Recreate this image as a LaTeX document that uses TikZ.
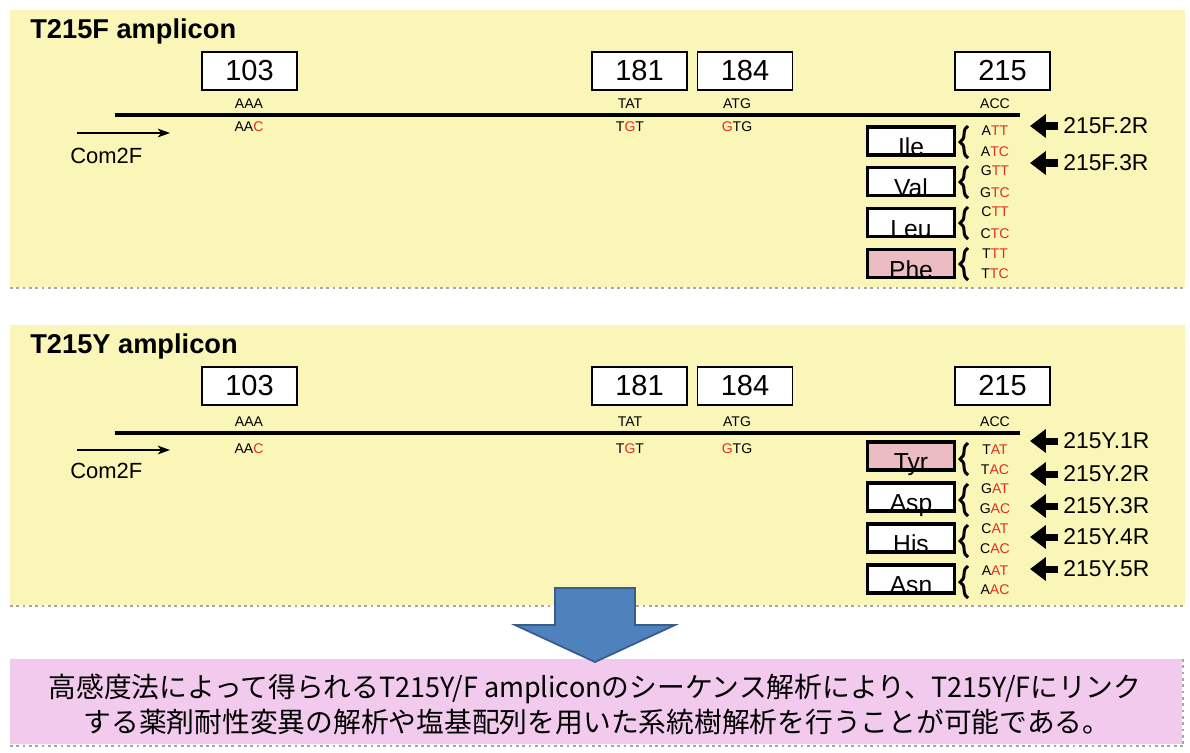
\documentclass[tikz,border=0pt]{standalone}
\usepackage{fontspec}
\usepackage{graphicx}
\setmainfont{Liberation Sans}
\newfontfamily\jpfont{Noto Sans CJK JP}
\usetikzlibrary{arrows.meta,decorations.pathreplacing}
\definecolor{panelyellow}{HTML}{FAF6B8}
\definecolor{notepink}{HTML}{F2CAEE}
\definecolor{aapink}{HTML}{EBBDC2}
\definecolor{mutred}{HTML}{E0301E}
\definecolor{bigblue}{HTML}{4F81BD}
\definecolor{bigblueline}{HTML}{385D8A}
\newcommand{\rd}[1]{\textcolor{mutred}{#1}}
\newcommand{\lat}[1]{\scalebox{0.97}[1]{#1}}
\tikzset{
  panel/.style={fill=panelyellow, draw=none},
  sep/.style={draw=gray!70, line width=1.6pt, dotted},
  title/.style={anchor=base west, inner sep=0, font=\fontsize{15.5}{16}\selectfont\bfseries},
  posbox/.style={draw, line width=1.1pt, fill=white, minimum width=1.9cm, minimum height=0.76cm, inner sep=0, font=\fontsize{16.5}{17}\selectfont},
  cod/.style={inner sep=0, font=\fontsize{8}{8}\selectfont},
  seqline/.style={line width=2.8pt},
  aabox/.style={draw, line width=2.2pt, fill=white, minimum width=1.74cm, minimum height=0.56cm, inner sep=0},
  aamut/.style={aabox, fill=aapink},
  aatxt/.style={anchor=base, inner sep=0, font=\fontsize{14}{14}\selectfont},
  brc/.style={decorate, decoration={brace, amplitude=4.5pt}, line width=1.7pt},
  fwd/.style={line width=0.7pt, -{Stealth[length=7pt, width=5pt, inset=2pt]}},
  fwdlbl/.style={anchor=base west, inner sep=0, font=\fontsize{12.5}{13}\selectfont},
  rev/.style={line width=4pt, shorten <=2.8pt, -{Triangle[length=9pt, width=13pt]}},
  revlbl/.style={anchor=west, inner sep=0, font=\fontsize{13}{13}\selectfont},
  note/.style={fill=notepink, draw=none},
  notetxt/.style={inner sep=0, font=\jpfont\fontsize{15.8}{16}\selectfont},
  bigarrow/.style={fill=bigblue, draw=bigblueline, line width=1pt, line join=miter},
}
\begin{document}
\begin{tikzpicture}[x=0.02cm, y=-0.02cm]
\useasboundingbox (0,0) rectangle (1190,752);
\fill[white] (0,0) rectangle (1190,752);

% ================= Panel 1: T215F =================
\fill[panel] (10,10) rectangle (1185,287);
\draw[sep] (10,288) -- (1185,288);
\node[title] (t1) at (30,38) {T215F amplicon};
\node[posbox] (p1a) at (249.5,71) {103};
\node[posbox] (p1b) at (639.5,71) {181};
\node[posbox] (p1c) at (745,71) {184};
\node[posbox] (p1d) at (1002.5,71) {215};
\coordinate (l1s) at (115,115);
\coordinate (l1e) at (1020,115);
\draw[seqline] (l1s) -- (l1e);
\node[cod] (c1a) at (249,104) {AAA};
\node[cod] (c1b) at (630,104) {TAT};
\node[cod] (c1c) at (737,104) {ATG};
\node[cod] (c1d) at (995,104) {ACC};
\node[cod] (m1a) at (249,127) {AA\rd{C}};
\node[cod] (m1b) at (630,127) {T\rd{G}T};
\node[cod] (m1c) at (737,127) {\rd{G}TG};
\coordinate (f1s) at (77,133);
\coordinate (f1e) at (170,133);
\draw[fwd] (f1s) -- (f1e);
\node[fwdlbl] (f1l) at (70,163) {Com2F};
% amino acids
\node[aabox] (ile) at (911,141) {};
\node[aatxt] at (911,155) {Ile};
\node[aabox] (val) at (911,181.5) {};
\node[aatxt] at (911,196) {Val};
\node[aabox] (leu) at (911,222.5) {};
\node[aatxt] at (911,237) {Leu};
\node[aamut] (phe) at (911,263.5) {};
\node[aatxt] at (911,278) {Phe};
\draw[brc] (968,158) -- (968,126);
\draw[brc] (968,198) -- (968,166);
\draw[brc] (968,239) -- (968,207);
\draw[brc] (968,280) -- (968,248);
\node[cod] (ile1) at (995,131) {A\rd{TT}};
\node[cod] (ile2) at (995,152) {A\rd{TC}};
\node[cod] (val1) at (995,171) {G\rd{TT}};
\node[cod] (val2) at (995,193) {G\rd{TC}};
\node[cod] (leu1) at (995,212) {C\rd{TT}};
\node[cod] (leu2) at (995,234) {C\rd{TC}};
\node[cod] (phe1) at (995,254) {T\rd{TT}};
\node[cod] (phe2) at (995,274) {T\rd{TC}};
% reverse primers
\node[revlbl] (r1a) at (1063,126) {215F.2R};
\node[revlbl] (r1b) at (1063,163) {215F.3R};
\coordinate (r1at) at (1030,126);
\coordinate (r1bt) at (1030,163);
\draw[rev] (r1a.west) -- (r1at);
\draw[rev] (r1b.west) -- (r1bt);

% ================= Panel 2: T215Y =================
\fill[panel] (10,325) rectangle (1185,605);
\draw[sep] (10,606) -- (1185,606);
\node[title] (t2) at (30,353) {T215Y amplicon};
\node[posbox] (p2a) at (249.5,386) {103};
\node[posbox] (p2b) at (639.5,386) {181};
\node[posbox] (p2c) at (745,386) {184};
\node[posbox] (p2d) at (1002.5,386) {215};
\coordinate (l2s) at (115,433);
\coordinate (l2e) at (1020,433);
\draw[seqline] (l2s) -- (l2e);
\node[cod] (c2a) at (249,422) {AAA};
\node[cod] (c2b) at (630,422) {TAT};
\node[cod] (c2c) at (737,422) {ATG};
\node[cod] (c2d) at (995,422) {ACC};
\node[cod] (m2a) at (249,449) {AA\rd{C}};
\node[cod] (m2b) at (630,449) {T\rd{G}T};
\node[cod] (m2c) at (737,449) {\rd{G}TG};
\coordinate (f2s) at (77,450);
\coordinate (f2e) at (170,450);
\draw[fwd] (f2s) -- (f2e);
\node[fwdlbl] (f2l) at (70,478) {Com2F};
% amino acids
\node[aamut] (tyr) at (911,456) {};
\node[aatxt] at (911,470) {Tyr};
\node[aabox] (asp) at (911,497) {};
\node[aatxt] at (911,511) {Asp};
\node[aabox] (his) at (911,538) {};
\node[aatxt] at (911,552) {His};
\node[aabox] (asn) at (911,579) {};
\node[aatxt] at (911,593) {Asn};
\draw[brc] (968,475) -- (968,443);
\draw[brc] (968,516) -- (968,484);
\draw[brc] (968,557) -- (968,525);
\draw[brc] (968,598) -- (968,566);
\node[cod] (tyr1) at (995,450) {T\rd{AT}};
\node[cod] (tyr2) at (995,470) {T\rd{AC}};
\node[cod] (asp1) at (995,489) {G\rd{AT}};
\node[cod] (asp2) at (995,509) {G\rd{AC}};
\node[cod] (his1) at (995,529) {C\rd{AT}};
\node[cod] (his2) at (995,549) {C\rd{AC}};
\node[cod] (asn1) at (995,571) {A\rd{AT}};
\node[cod] (asn2) at (995,590) {A\rd{AC}};
% reverse primers
\node[revlbl] (r2a) at (1063,441) {215Y.1R};
\node[revlbl] (r2b) at (1063,474) {215Y.2R};
\node[revlbl] (r2c) at (1063,506) {215Y.3R};
\node[revlbl] (r2d) at (1063,537) {215Y.4R};
\node[revlbl] (r2e) at (1063,569) {215Y.5R};
\coordinate (r2at) at (1030,441);
\coordinate (r2bt) at (1030,474);
\coordinate (r2ct) at (1030,506);
\coordinate (r2dt) at (1030,537);
\coordinate (r2et) at (1030,569);
\draw[rev] (r2a.west) -- (r2at);
\draw[rev] (r2b.west) -- (r2bt);
\draw[rev] (r2c.west) -- (r2ct);
\draw[rev] (r2d.west) -- (r2dt);
\draw[rev] (r2e.west) -- (r2et);

% ================= Conclusion =================
\fill[note] (10,659) rectangle (1182,744);
\draw[sep] (10,746) -- (1183,746);
\draw[sep] (1183,659) -- (1183,746);
\draw[bigarrow] (555,588) -- (635,588) -- (635,625) -- (675,625) -- (595,662) -- (515,625) -- (555,625) -- cycle;
\node[notetxt] (n1) at (595,689) {高感度法によって得られる\lat{T215Y/F amplicon}のシーケンス解析により、\lat{T215Y/F}にリンク};
\node[notetxt] (n2) at (597,722) {する薬剤耐性変異の解析や塩基配列を用いた系統樹解析を行うことが可能である。};
\end{tikzpicture}
\end{document}
